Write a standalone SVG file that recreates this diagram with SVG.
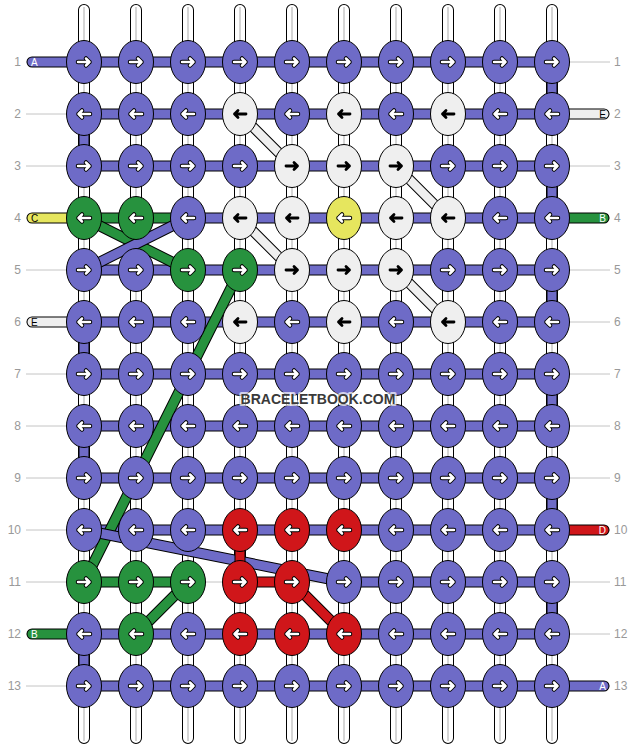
<svg xmlns="http://www.w3.org/2000/svg" xmlns:xlink="http://www.w3.org/1999/xlink" width="636" height="748" viewBox="0 0 636 748">
<style>
.num{font-family:"Liberation Sans",Arial,sans-serif;font-size:12px;fill:#999}
.lbl{font-family:"Liberation Sans",Arial,sans-serif;font-size:10px}
.guide{stroke:#c4c4c4;stroke-width:1;fill:none}
.so{stroke:#000;stroke-width:12;stroke-linecap:round;fill:none}
.si{stroke:#fff;stroke-width:10;stroke-linecap:round;fill:none}
.sc{stroke:#c8c8c8;stroke-width:1.5;fill:none}
.bo{stroke:#000;stroke-width:11;stroke-linecap:round;fill:none}
.bp{stroke:#6e6bc7;stroke-width:9;stroke-linecap:round;fill:none}
.bg{stroke:#27923e;stroke-width:9;stroke-linecap:round;fill:none}
.br{stroke:#d0161a;stroke-width:9;stroke-linecap:round;fill:none}
.by{stroke:#e6e65e;stroke-width:9;stroke-linecap:round;fill:none}
.bw{stroke:#efefef;stroke-width:9;stroke-linecap:round;fill:none}
.wo{stroke:#000;stroke-width:10.5;fill:none}
.wi{stroke:#efefef;stroke-width:8.5;fill:none}
ellipse{stroke:#000;stroke-width:1}
.kp{fill:#6e6bc7}.kw{fill:#efefef}.kg{fill:#27923e}.kr{fill:#d0161a}.ky{fill:#e6e65e}
.ao{fill:none;stroke:#000;stroke-width:4.5;stroke-linecap:round;stroke-linejoin:round}
.ai{fill:none;stroke:#fff;stroke-width:2.5;stroke-linecap:round;stroke-linejoin:round}
.ab{fill:none;stroke:#000;stroke-width:2.8;stroke-linecap:round;stroke-linejoin:round}
.wm{font-family:"Liberation Sans",Arial,sans-serif;font-size:14px;font-weight:bold;fill:#3a3a3a;stroke:#fff;stroke-opacity:0.7;stroke-width:4;paint-order:stroke;stroke-linejoin:round}
</style>
<defs>
<g id="ar"><path class="ao" d="M-6 0H5.5M2 -3.5L5.5 0L2 3.5"/><path class="ai" d="M-6 0H5.5M2 -3.5L5.5 0L2 3.5"/></g>
<g id="al"><path class="ao" d="M6 0H-5.5M-2 -3.5L-5.5 0L-2 3.5"/><path class="ai" d="M6 0H-5.5M-2 -3.5L-5.5 0L-2 3.5"/></g>
<path id="xr" class="ab" d="M-6 0H5.5M2 -3.5L5.5 0L2 3.5"/>
<path id="xl" class="ab" d="M6 0H-5.5M-2 -3.5L-5.5 0L-2 3.5"/>
</defs>
<rect width="636" height="748" fill="#fff"/>
<g id="row-numbers">
<path class="guide" d="M26 62H610M26 114H610M26 166H610M26 218H610M26 270H610M26 322H610M26 374H610M26 426H610M26 478H610M26 530H610M26 582H610M26 634H610M26 686H610"/>
<text class="num" text-anchor="end" x="21" y="66">1</text>
<text class="num" text-anchor="end" x="21" y="118">2</text>
<text class="num" text-anchor="end" x="21" y="170">3</text>
<text class="num" text-anchor="end" x="21" y="222">4</text>
<text class="num" text-anchor="end" x="21" y="274">5</text>
<text class="num" text-anchor="end" x="21" y="326">6</text>
<text class="num" text-anchor="end" x="21" y="378">7</text>
<text class="num" text-anchor="end" x="21" y="430">8</text>
<text class="num" text-anchor="end" x="21" y="482">9</text>
<text class="num" text-anchor="end" x="21" y="534">10</text>
<text class="num" text-anchor="end" x="21" y="586">11</text>
<text class="num" text-anchor="end" x="21" y="638">12</text>
<text class="num" text-anchor="end" x="21" y="690">13</text>
<text class="num" x="614" y="66">1</text>
<text class="num" x="614" y="118">2</text>
<text class="num" x="614" y="170">3</text>
<text class="num" x="614" y="222">4</text>
<text class="num" x="614" y="274">5</text>
<text class="num" x="614" y="326">6</text>
<text class="num" x="614" y="378">7</text>
<text class="num" x="614" y="430">8</text>
<text class="num" x="614" y="482">9</text>
<text class="num" x="614" y="534">10</text>
<text class="num" x="614" y="586">11</text>
<text class="num" x="614" y="638">12</text>
<text class="num" x="614" y="690">13</text>
</g>
<g id="connectors">
<g id="vertical-strands">
<path class="so" d="M84 10V738M136 10V738M188 10V738M240 10V738M292 10V738M344 10V738M396 10V738M448 10V738M500 10V738M552 10V738"/>
<path class="si" d="M84 10V738M136 10V738M188 10V738M240 10V738M292 10V738M344 10V738M396 10V738M448 10V738M500 10V738M552 10V738"/>
<path class="sc" d="M84 7V741M136 7V741M188 7V741M240 7V741M292 7V741M344 7V741M396 7V741M448 7V741M500 7V741M552 7V741"/>
</g>
<g id="bars">
<path class="bo" d="M32 62H552M84 114H604M84 166H552M32 218H604M84 270H552M32 322H552M84 374H552M84 426H552M84 478H552M84 530H604M84 582H188M240 582H292M344 582H552M32 634H552M84 686H604M552 62V114M552 166V218M552 270V322M552 374V426M552 478V530M552 582V634M84 114V166M84 322V374M84 426V478M84 634V686"/>
<path class="bp" d="M32 62H552M84 114H552M84 166H552M188 218H552M84 270H552M84 322H552M84 374H552M84 426H552M84 478H552M84 530H552M344 582H552M84 634H552M84 686H604M552 62V114M552 166V218M552 270V322M552 374V426M552 478V530M552 582V634M84 114V166M84 322V374M84 426V478M84 634V686"/>
<path class="bg" d="M84 218H188M84 582H188M32 634H84M552 218H604"/>
<path class="by" d="M32 218H84"/>
<path class="bw" d="M32 322H84M552 114H604"/>
<path class="br" d="M240 582H292M552 530H604"/>
</g>
<g id="diagonals">
<path class="wo" d="M240 114L292 166M396 166L448 218M240 218L292 270M396 270L448 322"/>
<path class="wi" d="M240 114L292 166M396 166L448 218M240 218L292 270M396 270L448 322"/>
<path class="bo" d="M84 218L188 270M240 270L84 582M136 634L188 582"/>
<path class="bg" d="M84 218L188 270M240 270L84 582M136 634L188 582"/>
<path class="bo" d="M84 270L188 218M84 530L344 582"/>
<path class="bp" d="M84 270L188 218M84 530L344 582"/>
<path class="bo" d="M240 530V582M292 582L344 634"/>
<path class="br" d="M240 530V582M292 582L344 634"/>
</g>
</g>
<g id="strand-labels">
<text class="lbl" x="31" y="65.5" fill="#fff">A</text>
<text class="lbl" x="31" y="221.5" fill="#000">C</text>
<text class="lbl" x="31" y="325.5" fill="#000">E</text>
<text class="lbl" x="31" y="637.5" fill="#fff">B</text>
<text class="lbl" x="606" y="117.5" fill="#000" text-anchor="end">E</text>
<text class="lbl" x="606" y="221.5" fill="#fff" text-anchor="end">B</text>
<text class="lbl" x="606" y="533.5" fill="#fff" text-anchor="end">D</text>
<text class="lbl" x="606" y="689.5" fill="#fff" text-anchor="end">A</text>
</g>
<g id="knots">
<g id="k1-1"><ellipse class="kp" cx="84" cy="62" rx="17.5" ry="21.5"/><use href="#ar" x="84" y="62"/></g>
<g id="k1-2"><ellipse class="kp" cx="136" cy="62" rx="17.5" ry="21.5"/><use href="#ar" x="136" y="62"/></g>
<g id="k1-3"><ellipse class="kp" cx="188" cy="62" rx="17.5" ry="21.5"/><use href="#ar" x="188" y="62"/></g>
<g id="k1-4"><ellipse class="kp" cx="240" cy="62" rx="17.5" ry="21.5"/><use href="#ar" x="240" y="62"/></g>
<g id="k1-5"><ellipse class="kp" cx="292" cy="62" rx="17.5" ry="21.5"/><use href="#ar" x="292" y="62"/></g>
<g id="k1-6"><ellipse class="kp" cx="344" cy="62" rx="17.5" ry="21.5"/><use href="#ar" x="344" y="62"/></g>
<g id="k1-7"><ellipse class="kp" cx="396" cy="62" rx="17.5" ry="21.5"/><use href="#ar" x="396" y="62"/></g>
<g id="k1-8"><ellipse class="kp" cx="448" cy="62" rx="17.5" ry="21.5"/><use href="#ar" x="448" y="62"/></g>
<g id="k1-9"><ellipse class="kp" cx="500" cy="62" rx="17.5" ry="21.5"/><use href="#ar" x="500" y="62"/></g>
<g id="k1-10"><ellipse class="kp" cx="552" cy="62" rx="17.5" ry="21.5"/><use href="#ar" x="552" y="62"/></g>

<g id="k2-1"><ellipse class="kp" cx="84" cy="114" rx="17.5" ry="21.5"/><use href="#al" x="84" y="114"/></g>
<g id="k2-2"><ellipse class="kp" cx="136" cy="114" rx="17.5" ry="21.5"/><use href="#al" x="136" y="114"/></g>
<g id="k2-3"><ellipse class="kp" cx="188" cy="114" rx="17.5" ry="21.5"/><use href="#al" x="188" y="114"/></g>
<g id="k2-4"><ellipse class="kw" cx="240" cy="114" rx="17.5" ry="21.5"/><use href="#xl" x="240" y="114"/></g>
<g id="k2-5"><ellipse class="kp" cx="292" cy="114" rx="17.5" ry="21.5"/><use href="#al" x="292" y="114"/></g>
<g id="k2-6"><ellipse class="kw" cx="344" cy="114" rx="17.5" ry="21.5"/><use href="#xl" x="344" y="114"/></g>
<g id="k2-7"><ellipse class="kp" cx="396" cy="114" rx="17.5" ry="21.5"/><use href="#al" x="396" y="114"/></g>
<g id="k2-8"><ellipse class="kw" cx="448" cy="114" rx="17.5" ry="21.5"/><use href="#xl" x="448" y="114"/></g>
<g id="k2-9"><ellipse class="kp" cx="500" cy="114" rx="17.5" ry="21.5"/><use href="#al" x="500" y="114"/></g>
<g id="k2-10"><ellipse class="kp" cx="552" cy="114" rx="17.5" ry="21.5"/><use href="#al" x="552" y="114"/></g>

<g id="k3-1"><ellipse class="kp" cx="84" cy="166" rx="17.5" ry="21.5"/><use href="#ar" x="84" y="166"/></g>
<g id="k3-2"><ellipse class="kp" cx="136" cy="166" rx="17.5" ry="21.5"/><use href="#ar" x="136" y="166"/></g>
<g id="k3-3"><ellipse class="kp" cx="188" cy="166" rx="17.5" ry="21.5"/><use href="#ar" x="188" y="166"/></g>
<g id="k3-4"><ellipse class="kp" cx="240" cy="166" rx="17.5" ry="21.5"/><use href="#ar" x="240" y="166"/></g>
<g id="k3-5"><ellipse class="kw" cx="292" cy="166" rx="17.5" ry="21.5"/><use href="#xr" x="292" y="166"/></g>
<g id="k3-6"><ellipse class="kw" cx="344" cy="166" rx="17.5" ry="21.5"/><use href="#xr" x="344" y="166"/></g>
<g id="k3-7"><ellipse class="kw" cx="396" cy="166" rx="17.5" ry="21.5"/><use href="#xr" x="396" y="166"/></g>
<g id="k3-8"><ellipse class="kp" cx="448" cy="166" rx="17.5" ry="21.5"/><use href="#ar" x="448" y="166"/></g>
<g id="k3-9"><ellipse class="kp" cx="500" cy="166" rx="17.5" ry="21.5"/><use href="#ar" x="500" y="166"/></g>
<g id="k3-10"><ellipse class="kp" cx="552" cy="166" rx="17.5" ry="21.5"/><use href="#ar" x="552" y="166"/></g>

<g id="k4-1"><ellipse class="kg" cx="84" cy="218" rx="17.5" ry="21.5"/><use href="#al" x="84" y="218"/></g>
<g id="k4-2"><ellipse class="kg" cx="136" cy="218" rx="17.5" ry="21.5"/><use href="#al" x="136" y="218"/></g>
<g id="k4-3"><ellipse class="kp" cx="188" cy="218" rx="17.5" ry="21.5"/><use href="#al" x="188" y="218"/></g>
<g id="k4-4"><ellipse class="kw" cx="240" cy="218" rx="17.5" ry="21.5"/><use href="#xl" x="240" y="218"/></g>
<g id="k4-5"><ellipse class="kw" cx="292" cy="218" rx="17.5" ry="21.5"/><use href="#xl" x="292" y="218"/></g>
<g id="k4-6"><ellipse class="ky" cx="344" cy="218" rx="17.5" ry="21.5"/><use href="#al" x="344" y="218"/></g>
<g id="k4-7"><ellipse class="kw" cx="396" cy="218" rx="17.5" ry="21.5"/><use href="#xl" x="396" y="218"/></g>
<g id="k4-8"><ellipse class="kw" cx="448" cy="218" rx="17.5" ry="21.5"/><use href="#xl" x="448" y="218"/></g>
<g id="k4-9"><ellipse class="kp" cx="500" cy="218" rx="17.5" ry="21.5"/><use href="#al" x="500" y="218"/></g>
<g id="k4-10"><ellipse class="kp" cx="552" cy="218" rx="17.5" ry="21.5"/><use href="#al" x="552" y="218"/></g>

<g id="k5-1"><ellipse class="kp" cx="84" cy="270" rx="17.5" ry="21.5"/><use href="#ar" x="84" y="270"/></g>
<g id="k5-2"><ellipse class="kp" cx="136" cy="270" rx="17.5" ry="21.5"/><use href="#ar" x="136" y="270"/></g>
<g id="k5-3"><ellipse class="kg" cx="188" cy="270" rx="17.5" ry="21.5"/><use href="#ar" x="188" y="270"/></g>
<g id="k5-4"><ellipse class="kg" cx="240" cy="270" rx="17.5" ry="21.5"/><use href="#ar" x="240" y="270"/></g>
<g id="k5-5"><ellipse class="kw" cx="292" cy="270" rx="17.5" ry="21.5"/><use href="#xr" x="292" y="270"/></g>
<g id="k5-6"><ellipse class="kw" cx="344" cy="270" rx="17.5" ry="21.5"/><use href="#xr" x="344" y="270"/></g>
<g id="k5-7"><ellipse class="kw" cx="396" cy="270" rx="17.5" ry="21.5"/><use href="#xr" x="396" y="270"/></g>
<g id="k5-8"><ellipse class="kp" cx="448" cy="270" rx="17.5" ry="21.5"/><use href="#ar" x="448" y="270"/></g>
<g id="k5-9"><ellipse class="kp" cx="500" cy="270" rx="17.5" ry="21.5"/><use href="#ar" x="500" y="270"/></g>
<g id="k5-10"><ellipse class="kp" cx="552" cy="270" rx="17.5" ry="21.5"/><use href="#ar" x="552" y="270"/></g>

<g id="k6-1"><ellipse class="kp" cx="84" cy="322" rx="17.5" ry="21.5"/><use href="#al" x="84" y="322"/></g>
<g id="k6-2"><ellipse class="kp" cx="136" cy="322" rx="17.5" ry="21.5"/><use href="#al" x="136" y="322"/></g>
<g id="k6-3"><ellipse class="kp" cx="188" cy="322" rx="17.5" ry="21.5"/><use href="#al" x="188" y="322"/></g>
<g id="k6-4"><ellipse class="kw" cx="240" cy="322" rx="17.5" ry="21.5"/><use href="#xl" x="240" y="322"/></g>
<g id="k6-5"><ellipse class="kp" cx="292" cy="322" rx="17.5" ry="21.5"/><use href="#al" x="292" y="322"/></g>
<g id="k6-6"><ellipse class="kw" cx="344" cy="322" rx="17.5" ry="21.5"/><use href="#xl" x="344" y="322"/></g>
<g id="k6-7"><ellipse class="kp" cx="396" cy="322" rx="17.5" ry="21.5"/><use href="#al" x="396" y="322"/></g>
<g id="k6-8"><ellipse class="kw" cx="448" cy="322" rx="17.5" ry="21.5"/><use href="#xl" x="448" y="322"/></g>
<g id="k6-9"><ellipse class="kp" cx="500" cy="322" rx="17.5" ry="21.5"/><use href="#al" x="500" y="322"/></g>
<g id="k6-10"><ellipse class="kp" cx="552" cy="322" rx="17.5" ry="21.5"/><use href="#al" x="552" y="322"/></g>

<g id="k7-1"><ellipse class="kp" cx="84" cy="374" rx="17.5" ry="21.5"/><use href="#ar" x="84" y="374"/></g>
<g id="k7-2"><ellipse class="kp" cx="136" cy="374" rx="17.5" ry="21.5"/><use href="#ar" x="136" y="374"/></g>
<g id="k7-3"><ellipse class="kp" cx="188" cy="374" rx="17.5" ry="21.5"/><use href="#ar" x="188" y="374"/></g>
<g id="k7-4"><ellipse class="kp" cx="240" cy="374" rx="17.5" ry="21.5"/><use href="#ar" x="240" y="374"/></g>
<g id="k7-5"><ellipse class="kp" cx="292" cy="374" rx="17.5" ry="21.5"/><use href="#ar" x="292" y="374"/></g>
<g id="k7-6"><ellipse class="kp" cx="344" cy="374" rx="17.5" ry="21.5"/><use href="#ar" x="344" y="374"/></g>
<g id="k7-7"><ellipse class="kp" cx="396" cy="374" rx="17.5" ry="21.5"/><use href="#ar" x="396" y="374"/></g>
<g id="k7-8"><ellipse class="kp" cx="448" cy="374" rx="17.5" ry="21.5"/><use href="#ar" x="448" y="374"/></g>
<g id="k7-9"><ellipse class="kp" cx="500" cy="374" rx="17.5" ry="21.5"/><use href="#ar" x="500" y="374"/></g>
<g id="k7-10"><ellipse class="kp" cx="552" cy="374" rx="17.5" ry="21.5"/><use href="#ar" x="552" y="374"/></g>

<g id="k8-1"><ellipse class="kp" cx="84" cy="426" rx="17.5" ry="21.5"/><use href="#al" x="84" y="426"/></g>
<g id="k8-2"><ellipse class="kp" cx="136" cy="426" rx="17.5" ry="21.5"/><use href="#al" x="136" y="426"/></g>
<g id="k8-3"><ellipse class="kp" cx="188" cy="426" rx="17.5" ry="21.5"/><use href="#al" x="188" y="426"/></g>
<g id="k8-4"><ellipse class="kp" cx="240" cy="426" rx="17.5" ry="21.5"/><use href="#al" x="240" y="426"/></g>
<g id="k8-5"><ellipse class="kp" cx="292" cy="426" rx="17.5" ry="21.5"/><use href="#al" x="292" y="426"/></g>
<g id="k8-6"><ellipse class="kp" cx="344" cy="426" rx="17.5" ry="21.5"/><use href="#al" x="344" y="426"/></g>
<g id="k8-7"><ellipse class="kp" cx="396" cy="426" rx="17.5" ry="21.5"/><use href="#al" x="396" y="426"/></g>
<g id="k8-8"><ellipse class="kp" cx="448" cy="426" rx="17.5" ry="21.5"/><use href="#al" x="448" y="426"/></g>
<g id="k8-9"><ellipse class="kp" cx="500" cy="426" rx="17.5" ry="21.5"/><use href="#al" x="500" y="426"/></g>
<g id="k8-10"><ellipse class="kp" cx="552" cy="426" rx="17.5" ry="21.5"/><use href="#al" x="552" y="426"/></g>

<g id="k9-1"><ellipse class="kp" cx="84" cy="478" rx="17.5" ry="21.5"/><use href="#ar" x="84" y="478"/></g>
<g id="k9-2"><ellipse class="kp" cx="136" cy="478" rx="17.5" ry="21.5"/><use href="#ar" x="136" y="478"/></g>
<g id="k9-3"><ellipse class="kp" cx="188" cy="478" rx="17.5" ry="21.5"/><use href="#ar" x="188" y="478"/></g>
<g id="k9-4"><ellipse class="kp" cx="240" cy="478" rx="17.5" ry="21.5"/><use href="#ar" x="240" y="478"/></g>
<g id="k9-5"><ellipse class="kp" cx="292" cy="478" rx="17.5" ry="21.5"/><use href="#ar" x="292" y="478"/></g>
<g id="k9-6"><ellipse class="kp" cx="344" cy="478" rx="17.5" ry="21.5"/><use href="#ar" x="344" y="478"/></g>
<g id="k9-7"><ellipse class="kp" cx="396" cy="478" rx="17.5" ry="21.5"/><use href="#ar" x="396" y="478"/></g>
<g id="k9-8"><ellipse class="kp" cx="448" cy="478" rx="17.5" ry="21.5"/><use href="#ar" x="448" y="478"/></g>
<g id="k9-9"><ellipse class="kp" cx="500" cy="478" rx="17.5" ry="21.5"/><use href="#ar" x="500" y="478"/></g>
<g id="k9-10"><ellipse class="kp" cx="552" cy="478" rx="17.5" ry="21.5"/><use href="#ar" x="552" y="478"/></g>

<g id="k10-1"><ellipse class="kp" cx="84" cy="530" rx="17.5" ry="21.5"/><use href="#al" x="84" y="530"/></g>
<g id="k10-2"><ellipse class="kp" cx="136" cy="530" rx="17.5" ry="21.5"/><use href="#al" x="136" y="530"/></g>
<g id="k10-3"><ellipse class="kp" cx="188" cy="530" rx="17.5" ry="21.5"/><use href="#al" x="188" y="530"/></g>
<g id="k10-4"><ellipse class="kr" cx="240" cy="530" rx="17.5" ry="21.5"/><use href="#al" x="240" y="530"/></g>
<g id="k10-5"><ellipse class="kr" cx="292" cy="530" rx="17.5" ry="21.5"/><use href="#al" x="292" y="530"/></g>
<g id="k10-6"><ellipse class="kr" cx="344" cy="530" rx="17.5" ry="21.5"/><use href="#al" x="344" y="530"/></g>
<g id="k10-7"><ellipse class="kp" cx="396" cy="530" rx="17.5" ry="21.5"/><use href="#al" x="396" y="530"/></g>
<g id="k10-8"><ellipse class="kp" cx="448" cy="530" rx="17.5" ry="21.5"/><use href="#al" x="448" y="530"/></g>
<g id="k10-9"><ellipse class="kp" cx="500" cy="530" rx="17.5" ry="21.5"/><use href="#al" x="500" y="530"/></g>
<g id="k10-10"><ellipse class="kp" cx="552" cy="530" rx="17.5" ry="21.5"/><use href="#al" x="552" y="530"/></g>

<g id="k11-1"><ellipse class="kg" cx="84" cy="582" rx="17.5" ry="21.5"/><use href="#ar" x="84" y="582"/></g>
<g id="k11-2"><ellipse class="kg" cx="136" cy="582" rx="17.5" ry="21.5"/><use href="#ar" x="136" y="582"/></g>
<g id="k11-3"><ellipse class="kg" cx="188" cy="582" rx="17.5" ry="21.5"/><use href="#ar" x="188" y="582"/></g>
<g id="k11-4"><ellipse class="kr" cx="240" cy="582" rx="17.5" ry="21.5"/><use href="#ar" x="240" y="582"/></g>
<g id="k11-5"><ellipse class="kr" cx="292" cy="582" rx="17.5" ry="21.5"/><use href="#ar" x="292" y="582"/></g>
<g id="k11-6"><ellipse class="kp" cx="344" cy="582" rx="17.5" ry="21.5"/><use href="#ar" x="344" y="582"/></g>
<g id="k11-7"><ellipse class="kp" cx="396" cy="582" rx="17.5" ry="21.5"/><use href="#ar" x="396" y="582"/></g>
<g id="k11-8"><ellipse class="kp" cx="448" cy="582" rx="17.5" ry="21.5"/><use href="#ar" x="448" y="582"/></g>
<g id="k11-9"><ellipse class="kp" cx="500" cy="582" rx="17.5" ry="21.5"/><use href="#ar" x="500" y="582"/></g>
<g id="k11-10"><ellipse class="kp" cx="552" cy="582" rx="17.5" ry="21.5"/><use href="#ar" x="552" y="582"/></g>

<g id="k12-1"><ellipse class="kp" cx="84" cy="634" rx="17.5" ry="21.5"/><use href="#al" x="84" y="634"/></g>
<g id="k12-2"><ellipse class="kg" cx="136" cy="634" rx="17.5" ry="21.5"/><use href="#al" x="136" y="634"/></g>
<g id="k12-3"><ellipse class="kp" cx="188" cy="634" rx="17.5" ry="21.5"/><use href="#al" x="188" y="634"/></g>
<g id="k12-4"><ellipse class="kr" cx="240" cy="634" rx="17.5" ry="21.5"/><use href="#al" x="240" y="634"/></g>
<g id="k12-5"><ellipse class="kr" cx="292" cy="634" rx="17.5" ry="21.5"/><use href="#al" x="292" y="634"/></g>
<g id="k12-6"><ellipse class="kr" cx="344" cy="634" rx="17.5" ry="21.5"/><use href="#al" x="344" y="634"/></g>
<g id="k12-7"><ellipse class="kp" cx="396" cy="634" rx="17.5" ry="21.5"/><use href="#al" x="396" y="634"/></g>
<g id="k12-8"><ellipse class="kp" cx="448" cy="634" rx="17.5" ry="21.5"/><use href="#al" x="448" y="634"/></g>
<g id="k12-9"><ellipse class="kp" cx="500" cy="634" rx="17.5" ry="21.5"/><use href="#al" x="500" y="634"/></g>
<g id="k12-10"><ellipse class="kp" cx="552" cy="634" rx="17.5" ry="21.5"/><use href="#al" x="552" y="634"/></g>

<g id="k13-1"><ellipse class="kp" cx="84" cy="686" rx="17.5" ry="21.5"/><use href="#ar" x="84" y="686"/></g>
<g id="k13-2"><ellipse class="kp" cx="136" cy="686" rx="17.5" ry="21.5"/><use href="#ar" x="136" y="686"/></g>
<g id="k13-3"><ellipse class="kp" cx="188" cy="686" rx="17.5" ry="21.5"/><use href="#ar" x="188" y="686"/></g>
<g id="k13-4"><ellipse class="kp" cx="240" cy="686" rx="17.5" ry="21.5"/><use href="#ar" x="240" y="686"/></g>
<g id="k13-5"><ellipse class="kp" cx="292" cy="686" rx="17.5" ry="21.5"/><use href="#ar" x="292" y="686"/></g>
<g id="k13-6"><ellipse class="kp" cx="344" cy="686" rx="17.5" ry="21.5"/><use href="#ar" x="344" y="686"/></g>
<g id="k13-7"><ellipse class="kp" cx="396" cy="686" rx="17.5" ry="21.5"/><use href="#ar" x="396" y="686"/></g>
<g id="k13-8"><ellipse class="kp" cx="448" cy="686" rx="17.5" ry="21.5"/><use href="#ar" x="448" y="686"/></g>
<g id="k13-9"><ellipse class="kp" cx="500" cy="686" rx="17.5" ry="21.5"/><use href="#ar" x="500" y="686"/></g>
<g id="k13-10"><ellipse class="kp" cx="552" cy="686" rx="17.5" ry="21.5"/><use href="#ar" x="552" y="686"/></g>
</g>
<text class="wm" x="318" y="404" text-anchor="middle">BRACELETBOOK.COM</text>
</svg>
